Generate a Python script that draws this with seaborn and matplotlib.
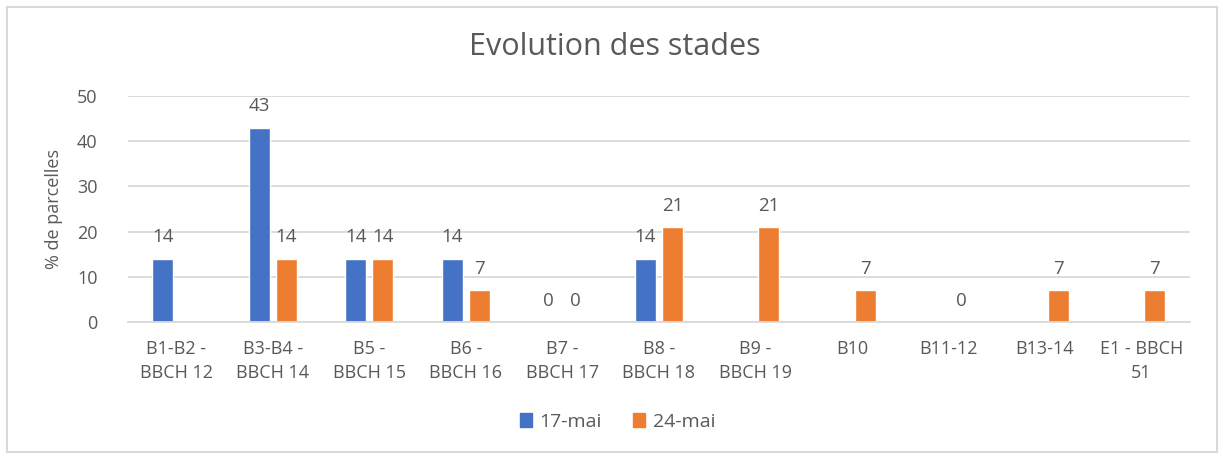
import numpy as np
import pandas as pd
import matplotlib
matplotlib.use("Agg")
import matplotlib.pyplot as plt
from matplotlib.patches import Rectangle
import seaborn as sns

# Données
stades = ["B1-B2 -\nBBCH 12", "B3-B4 -\nBBCH 14", "B5 -\nBBCH 15", "B6 -\nBBCH 16",
          "B7 -\nBBCH 17", "B8 -\nBBCH 18", "B9 -\nBBCH 19", "B10", "B11-12",
          "B13-14", "E1 - BBCH\n51"]
mai_17 = [14, 43, 14, 14, 0, 14, np.nan, np.nan, np.nan, np.nan, np.nan]
mai_24 = [np.nan, 14, 14, 7, 0, 21, 21, 7, 0, 7, 7]
dates = ["17-mai", "24-mai"]
couleurs = ["#4472C4", "#ED7D31"]

df = pd.DataFrame({
    "stade": stades * 2,
    "date": [dates[0]] * len(stades) + [dates[1]] * len(stades),
    "pct": mai_17 + mai_24,
}).dropna()

sns.set_theme(style="white")
plt.rcParams['font.family'] = ['Open Sans', 'DejaVu Sans']
gris = "#595959"

fig = plt.figure(figsize=(12.23, 4.62), dpi=100)
fig.patches.append(Rectangle((0.006, 0.022), 0.989, 0.962, transform=fig.transFigure,
                             fill=False, edgecolor="#D9D9D9", linewidth=1.5))
ax = fig.add_axes([0.1047, 0.303, 0.868, 0.489])

sns.barplot(data=df, x="stade", y="pct", hue="date", order=stades, hue_order=dates,
            palette=couleurs, width=0.56, gap=0.22, saturation=1, ax=ax, legend=True)

for c in ax.containers:
    ax.bar_label(c, fmt="%d", padding=9, color=gris, fontsize=13.5)

ax.set_ylim(0, 50)
ax.set_yticks(range(0, 51, 10))
ax.yaxis.grid(True, color="#D9D9D9", linewidth=1.3)
ax.set_axisbelow(True)
for s in ["top", "right", "left"]:
    ax.spines[s].set_visible(False)
ax.spines["bottom"].set_color("#D9D9D9")
ax.spines["bottom"].set_linewidth(1.3)
ax.tick_params(axis="both", length=0, labelsize=13, labelcolor=gris)
ax.tick_params(axis="x", pad=13)
ax.tick_params(axis="y", pad=22)
for lab in ax.get_xticklabels():
    lab.set_linespacing(1.45)
ax.set_xlabel("")
ax.set_ylabel("% de parcelles", fontsize=13, color=gris, labelpad=10)

fig.text(0.503, 0.898, "Evolution des stades", ha="center", va="center",
         fontsize=22, color=gris)

ax.get_legend().remove()
handles = [Rectangle((0, 0), 1, 1, color=c) for c in couleurs]
fig.legend(handles, dates, loc="center", bbox_to_anchor=(0.505, 0.087), ncol=2,
           frameon=False, fontsize=14, handlelength=0.6, handleheight=0.7,
           handletextpad=0.4, columnspacing=1.6, labelcolor=gris)

fig.savefig("out.png", dpi=100)
